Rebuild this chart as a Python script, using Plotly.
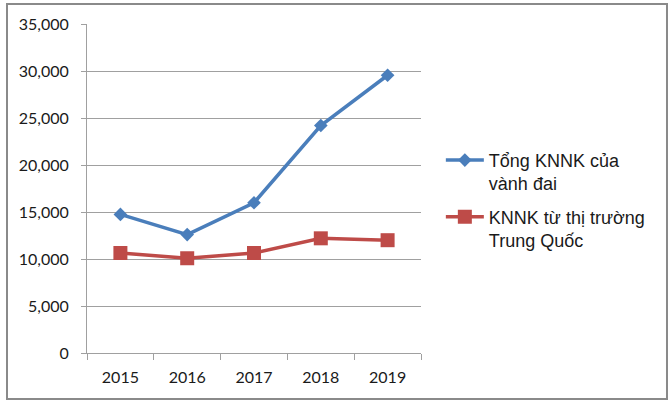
import plotly.graph_objects as go

years = ["2015", "2016", "2017", "2018", "2019"]
tong_knnk = [14740, 12600, 15980, 24200, 29550]
knnk_tq = [10640, 10080, 10640, 12200, 12000]
series_names = ["Tổng KNNK của<br>vành đai", "KNNK từ thị trường<br>Trung Quốc"]
y_ticks = [0, 5000, 10000, 15000, 20000, 25000, 30000, 35000]

fig = go.Figure()
fig.add_trace(go.Scatter(
    x=years, y=tong_knnk, name=series_names[0], mode="lines+markers",
    legendgroup="g1",
    line=dict(color="#4A7EBB", width=3.5),
    marker=dict(symbol="diamond", size=10.5, color="#4A7EBB"),
))
fig.add_trace(go.Scatter(
    x=years, y=knnk_tq, name=series_names[1], mode="lines+markers",
    legendgroup="g2",
    line=dict(color="#BE4B48", width=3.5),
    marker=dict(symbol="square", size=14, color="#BE4B48"),
))

grey = "#A0A0A0"
fig.update_layout(
    width=671, height=403,
    margin=dict(l=87, r=250, t=24, b=50),
    paper_bgcolor="white", plot_bgcolor="white",
    font=dict(family="Lato", size=16, color="#1a1a1a"),
    showlegend=True,
    legend=dict(
        xref="container", yref="container",
        x=0.657, y=0.648, xanchor="left", yanchor="top",
        valign="top", itemwidth=38,
        font=dict(family="Liberation Sans", size=18, color="#1a1a1a"),
        bgcolor="rgba(0,0,0,0)",
        tracegroupgap=7,
    ),
    xaxis=dict(
        type="category", range=[-0.5, 4.5],
        showline=True, linecolor=grey, linewidth=1,
        ticks="outside", tickson="boundaries", ticklen=6, tickcolor=grey,
        showgrid=False, ticklabelstandoff=10,
        fixedrange=True,
    ),
    yaxis=dict(
        range=[0, 35000], tickvals=y_ticks, tickformat=",",
        showline=True, linecolor=grey, linewidth=1,
        ticks="outside", ticklen=5, tickcolor=grey,
        showgrid=True, gridcolor=grey, gridwidth=1,
        zeroline=False, ticklabelstandoff=9,
        fixedrange=True,
    ),
    shapes=[dict(
        type="rect", xref="paper", yref="paper",
        x0=-0.2395, x1=1.7365, y0=-0.1398, y1=1.0608,
        line=dict(color="#8a8a8a", width=2), fillcolor="rgba(0,0,0,0)",
        layer="below",
    )],
)

fig.write_html(
    "out.html",
    config={"displayModeBar": False},
    post_script="document.body.style.margin='0';document.body.style.overflow='hidden';",
)
